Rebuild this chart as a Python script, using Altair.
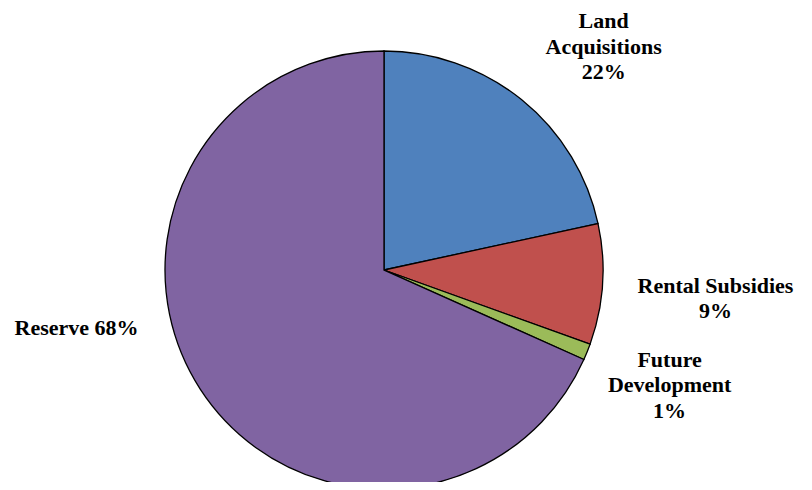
import altair as alt
import pandas as pd

categories = ["Land Acquisitions", "Rental Subsidies", "Future Development", "Reserve"]
values = [21.6, 8.9, 1.2, 68.3]
label_texts = ["Land\nAcquisitions\n22%", "Rental Subsidies\n9%", "Future\nDevelopment\n1%", "Reserve 68%"]
colors = ["#4F81BD", "#C0504D", "#9BBB59", "#8064A2"]

df = pd.DataFrame({
    "category": categories,
    "value": values,
    "label": label_texts,
    "idx": list(range(len(categories))),
})

CX, CY, R = 376, 262, 219
theta_scale = alt.Scale(domain=[0, sum(values)])

pie = alt.Chart(df).mark_arc(stroke="black", strokeWidth=1.3, outerRadius=R).encode(
    theta=alt.Theta("value:Q", stack=True, scale=theta_scale),
    order=alt.Order("idx:Q"),
    x=alt.value(CX), y=alt.value(CY),
    color=alt.Color("category:N", scale=alt.Scale(domain=categories, range=colors), legend=None),
)

text_base = alt.Chart(df).transform_window(
    cum="sum(value)", sort=[alt.SortField("idx")]
).transform_calculate(mid="datum.cum - datum.value / 2")

offsets = {
    "Land Acquisitions": (69, -62),
    "Rental Subsidies": (92, 0),
    "Future Development": (63, 0),
    "Reserve": (-106, -73),
}

layers = [pie]
for cat in categories:
    dx, dy = offsets[cat]
    layers.append(
        text_base.transform_filter(alt.datum.category == cat).mark_text(
            font="Liberation Serif", fontWeight="bold", fontSize=22,
            lineBreak="\n", lineHeight=25.5, align="center", baseline="middle",
            radius=240, dx=dx, dy=dy, color="black",
        ).encode(
            theta=alt.Theta("mid:Q", stack=None, scale=theta_scale),
            x=alt.value(CX), y=alt.value(CY), text="label:N",
        )
    )

chart = alt.layer(*layers).properties(
    width=796, height=474, padding=0, autosize=alt.AutoSizeParams(type="none"),
).configure_view(stroke=None)

chart.save("out.html", embed_options={"renderer": "svg", "actions": False})
